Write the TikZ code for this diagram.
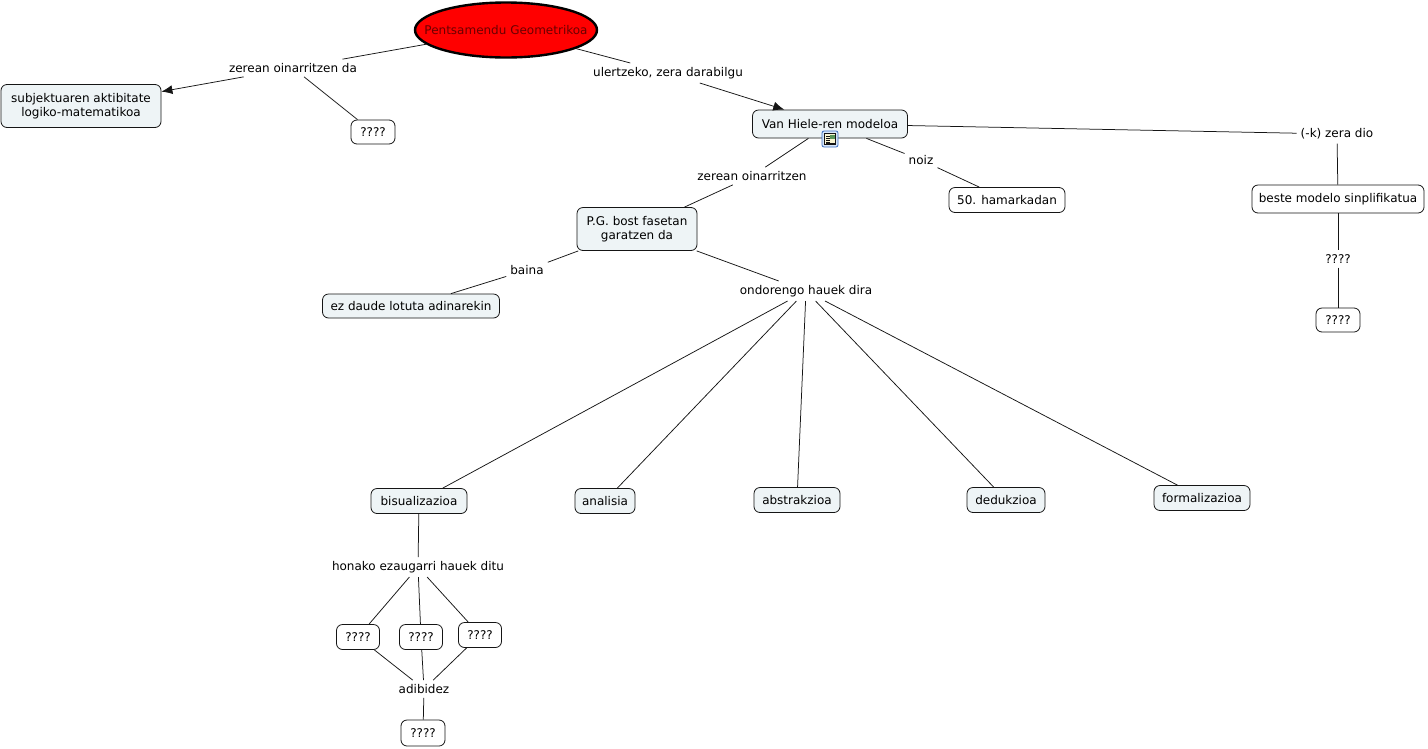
\documentclass[tikz,border=0pt]{standalone}
\usepackage{fontspec}
\setmainfont{DejaVu Sans}
\usetikzlibrary{arrows.meta,shapes.geometric}
\definecolor{boxfill}{HTML}{EEF4F6}
\definecolor{edgecol}{HTML}{151515}
\definecolor{darkred}{HTML}{6A0000}
\definecolor{iconblue}{RGB}{60,110,190}
\definecolor{iconfill}{RGB}{215,230,250}
\definecolor{iconpaper}{RGB}{250,245,210}
\definecolor{icongreen}{RGB}{90,150,90}
\begin{document}
\begin{tikzpicture}[x=1pt,y=-1pt,
  every node/.style={font=\fontsize{12}{14.5}\selectfont, text=black},
  concept/.style={draw=edgecol, rounded corners=6pt, fill=boxfill, inner xsep=6pt, inner ysep=3pt, minimum height=26pt, align=center, line width=0.8pt},
  plain/.style={concept, fill=white},
  lbl/.style={inner sep=4pt, align=center},
  link/.style={draw=edgecol, line width=0.75pt},
  arr/.style={link, -{Latex[length=11pt,width=9pt]}}
]
\useasboundingbox (0,0) rectangle (1428,748);
\fill[white] (0,0) rectangle (1428,748);

% concepts
\node[ellipse, draw=black, line width=2.4pt, fill=red, minimum width=182pt, minimum height=55pt, inner sep=0pt] (pg) at (506,30) {};
\node[text=darkred, inner sep=0pt] (pgt) at (pg.center) {Pentsamendu Geometrikoa};
\node[concept, minimum width=160pt, minimum height=43pt] (subj) at (81,106) {subjektuaren aktibitate\\logiko-matematikoa};
\node[plain, minimum width=44pt, minimum height=24pt] (q1) at (373,132) {????};
\node[concept, minimum width=155pt, minimum height=28pt] (vh) at (830,124) {Van Hiele-ren modeloa};
\node[plain, minimum width=116pt, minimum height=25pt] (h50) at (1007,200) {50. hamarkadan};
\node[plain, minimum width=172pt, minimum height=28pt] (beste) at (1338,199) {beste modelo sinplifikatua};
\node[plain, minimum width=44pt, minimum height=24pt] (q2) at (1338,320) {????};
\node[concept, minimum width=120pt, minimum height=43pt] (pgb) at (637,229) {P.G. bost fasetan\\garatzen da};
\node[concept, minimum width=177pt, minimum height=24pt] (ez) at (411,306) {ez daude lotuta adinarekin};
\node[concept, minimum width=96pt, minimum height=25pt] (bis) at (419,501) {bisualizazioa};
\node[concept, minimum width=60pt, minimum height=25pt] (ana) at (605,501) {analisia};
\node[concept, minimum width=86pt, minimum height=25pt] (abs) at (797,500) {abstrakzioa};
\node[concept, minimum width=78pt, minimum height=25pt] (ded) at (1006,500) {dedukzioa};
\node[concept, minimum width=96pt, minimum height=25pt] (form) at (1202,498) {formalizazioa};
\node[plain, minimum width=43pt, minimum height=25pt] (qa) at (358,637) {????};
\node[plain, minimum width=43pt, minimum height=25pt] (qb) at (421,637) {????};
\node[plain, minimum width=43pt, minimum height=25pt] (qc) at (480,635) {????};
\node[plain, minimum width=44pt, minimum height=26pt] (qd) at (423,733) {????};

% icon under Van Hiele
\node[draw=iconblue, fill=iconfill, rounded corners=2pt, minimum width=16pt, minimum height=16pt, inner sep=0pt, line width=0.8pt] (icon) at (830,139) {};
\fill[iconpaper, draw=edgecol, line width=0.4pt] (824.5,133.5) rectangle (835.5,144.5);
\fill[icongreen] (830,134.5) rectangle (835,139);
\foreach \yy in {136,138,140,142}{\draw[edgecol, line width=0.5pt] (826,\yy) -- (829.5,\yy);}
\draw[edgecol, line width=0.5pt] (826,143) -- (834.5,143);

% linking phrases
\node[lbl] (l1) at (293,68) {zerean oinarritzen da};
\node[lbl] (l2) at (668,73) {ulertzeko, zera darabilgu};
\node[lbl] (l3) at (1337,134) {(-k) zera dio};
\node[lbl] (l4) at (1338,259) {????};
\node[lbl] (l5) at (752,176) {zerean oinarritzen};
\node[lbl] (l6) at (921,160) {noiz};
\node[lbl] (l7) at (527,270) {baina};
\node[lbl] (l8) at (806,291) {ondorengo hauek dira};
\node[lbl] (l9) at (418,567) {honako ezaugarri hauek ditu};
\node[lbl] (l10) at (424,689) {adibidez};

% connectors
\draw[link] (pg) -- (l1);
\draw[arr] (l1) -- (subj);
\draw[link] (l1) -- (q1);
\draw[link] (pg) -- (l2);
\draw[arr] (l2) -- (vh);
\draw[link] (vh) -- (l3);
\draw[link] (l3) -- (beste);
\draw[link] (beste) -- (l4);
\draw[link] (l4) -- (q2);
\draw[link] (vh) -- (l5);
\draw[link] (l5) -- (pgb);
\draw[link] (vh) -- (l6);
\draw[link] (l6) -- (h50);
\draw[link] (pgb) -- (l7);
\draw[link] (l7) -- (ez);
\draw[link] (pgb) -- (l8);
\draw[link] (l8) -- (bis);
\draw[link] (l8) -- (ana);
\draw[link] (l8) -- (abs);
\draw[link] (l8) -- (ded);
\draw[link] (l8) -- (form);
\draw[link] (bis) -- (l9);
\draw[link] (l9) -- (qa);
\draw[link] (l9) -- (qb);
\draw[link] (l9) -- (qc);
\draw[link] (qa) -- (l10);
\draw[link] (qb) -- (l10);
\draw[link] (qc) -- (l10);
\draw[link] (l10) -- (qd);
\end{tikzpicture}
\end{document}
